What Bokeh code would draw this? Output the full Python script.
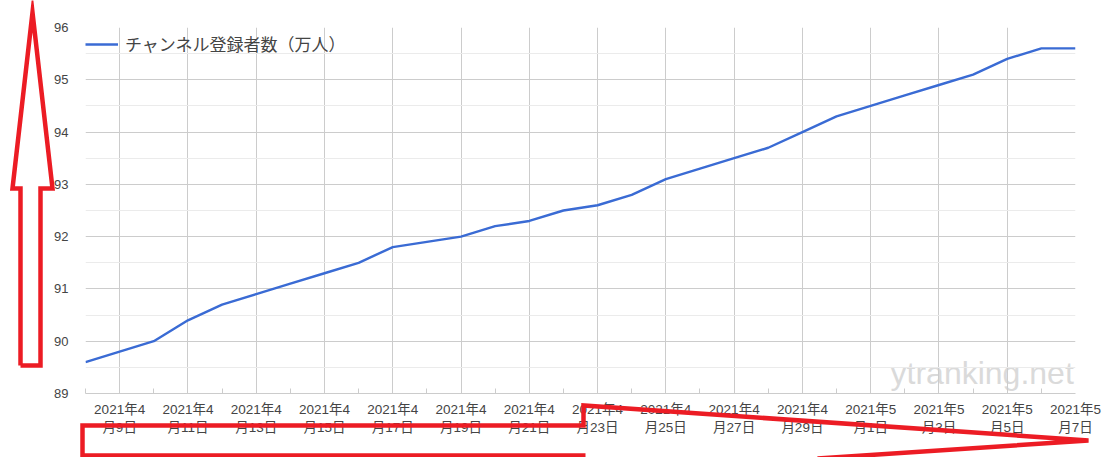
import pandas as pd
from bokeh.plotting import figure
from bokeh.layouts import column
from bokeh.models import (Range1d, FixedTicker, Label, Legend, LegendItem)
from bokeh.embed import file_html
from bokeh.resources import INLINE

# ---- data ----
dates = ["2021-04-08", "2021-04-09", "2021-04-10", "2021-04-11", "2021-04-12",
         "2021-04-13", "2021-04-14", "2021-04-15", "2021-04-16", "2021-04-17",
         "2021-04-18", "2021-04-19", "2021-04-20", "2021-04-21", "2021-04-22",
         "2021-04-23", "2021-04-24", "2021-04-25", "2021-04-26", "2021-04-27",
         "2021-04-28", "2021-04-29", "2021-04-30", "2021-05-01", "2021-05-02",
         "2021-05-03", "2021-05-04", "2021-05-05", "2021-05-06", "2021-05-07"]
subscribers = [89.6, 89.8, 90.0, 90.4, 90.7, 90.9, 91.1, 91.3, 91.5, 91.8,
               91.9, 92.0, 92.2, 92.3, 92.5, 92.6, 92.8, 93.1, 93.3, 93.5,
               93.7, 94.0, 94.3, 94.5, 94.7, 94.9, 95.1, 95.4, 95.6, 95.6]
series_name = "チャンネル登録者数（万人）"
y_ticks = [89, 90, 91, 92, 93, 94, 95, 96]
watermark = "ytranking.net"

# hand-drawn red arrows on top of the screenshot (page pixel space)
up_arrow_x = [20, 20, 12, 32, 52, 40, 40, 20]
up_arrow_y = [365, 188, 188, 12, 188, 188, 365, 365]
right_arrow_x = [585, 82, 82, 583, 583, 1088, 817]
right_arrow_y = [455, 455, 425, 425, 405, 440, 458]

dt = pd.to_datetime(dates)
x = [(d - dt[0]).days for d in dt]
major_x = [x[i] for i in range(1, len(x), 2)]
minor_x = [x[i] for i in range(0, len(x), 2)]
labels = {x[i]: f"{dt[i].year}年{dt[i].month}\n月{dt[i].day}日" for i in range(1, len(x), 2)}

FONT = "'Liberation Sans', 'Noto Sans CJK JP'"
W, H = 1102, 457

p = figure(width=W, height=H, output_backend="svg", toolbar_location=None,
           min_border_left=85, min_border_right=27, min_border_top=27, min_border_bottom=64,
           x_range=Range1d(x[0], x[-1]), y_range=Range1d(89, 96))
p.frame_align = False
p.outline_line_color = None
p.background_fill_color = "white"
p.border_fill_color = "white"

# watermark (drawn beneath the grid and line)
p.add_layout(Label(x=x[-1] - 0.05, y=89.39, text=watermark, text_align="right",
                   text_baseline="alphabetic", text_font="'Liberation Sans'",
                   text_font_size="32px", text_color="#dadada", level="image"))

r = p.line(x, subscribers, line_color="#3a6bd4", line_width=2.4)

# x axis
p.xaxis.ticker = FixedTicker(ticks=major_x, minor_ticks=minor_x)
p.xaxis.major_label_overrides = labels
p.xaxis.axis_line_color = "#cccccc"
p.xaxis.major_tick_line_color = None
p.xaxis.minor_tick_line_color = "#cccccc"
p.xaxis.minor_tick_in = 5
p.xaxis.minor_tick_out = 0
p.xaxis.major_label_text_font = FONT
p.xaxis.major_label_text_font_size = "13.5px"
p.xaxis.major_label_text_color = "#444444"
p.xaxis.major_label_standoff = 2
p.xgrid.grid_line_color = "#cccccc"

# y axis
p.yaxis.ticker = FixedTicker(ticks=y_ticks, minor_ticks=[v + 0.5 for v in y_ticks[:-1]])
p.yaxis.axis_line_color = None
p.yaxis.major_tick_line_color = None
p.yaxis.minor_tick_line_color = None
p.yaxis.major_label_text_font = FONT
p.yaxis.major_label_text_font_size = "13px"
p.yaxis.major_label_text_color = "#444444"
p.yaxis.major_label_standoff = 11
p.ygrid.grid_line_color = "#cccccc"
p.ygrid.minor_grid_line_color = "#ebebeb"

# legend
legend = Legend(items=[LegendItem(label=series_name, renderers=[r])],
                location=(0, 337), margin=0, padding=0, spacing=0,
                glyph_width=33, glyph_height=20, label_height=20, label_standoff=7,
                border_line_color=None, background_fill_alpha=0,
                label_text_font="'Noto Sans CJK JP'", label_text_font_size="17px",
                label_text_color="#444444")
p.add_layout(legend)

# transparent overlay figure for the red arrows, laid over the chart
ov = figure(width=W, height=H, output_backend="svg", toolbar_location=None,
            min_border=0, x_axis_location=None, y_axis_location=None,
            x_range=Range1d(0, W), y_range=Range1d(H, 0))
ov.frame_align = False
ov.outline_line_color = None
ov.background_fill_alpha = 0
ov.border_fill_alpha = 0
ov.grid.visible = False
ov.line(up_arrow_x, up_arrow_y, line_color="#ec1c24", line_width=4.5, line_join="miter")
ov.line(right_arrow_x, right_arrow_y, line_color="#ec1c24", line_width=4.5, line_join="miter")
ov.margin = (-H, 0, 0, 0)

layout = column(p, ov, spacing=0)
open("out.html", "w").write(file_html(layout, INLINE))
